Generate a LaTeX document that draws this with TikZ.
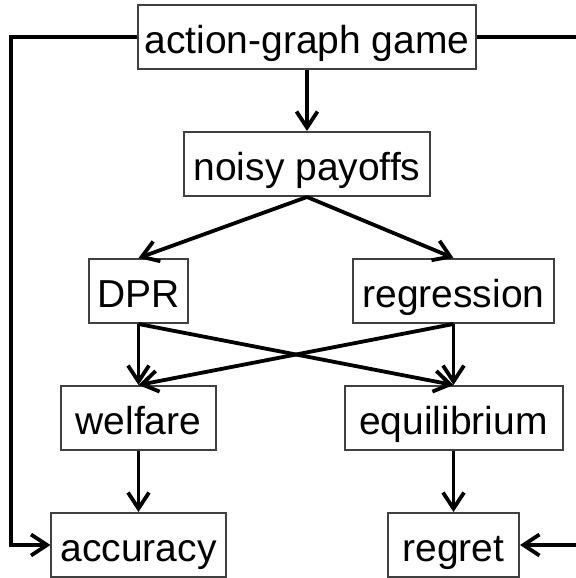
\documentclass[tikz,border=0pt]{standalone}
\usepackage{fontspec}
\setmainfont{Liberation Sans}
\usetikzlibrary{arrows.meta,positioning}

\begin{document}
\begin{tikzpicture}[
  stage/.style={rectangle,draw=black!75,line width=1pt,inner xsep=0pt,inner ysep=0pt,
    minimum height=32pt,text height=18pt,text depth=2pt,font=\fontsize{19.5}{23}\selectfont},
  link/.style={->,line width=1.9pt},
  >={Straight Barb[length=8pt,width=10.5pt]},
  node distance=30.5pt]

  \useasboundingbox (-153.5pt,18.5pt) rectangle (134pt,-270.5pt);

  \node[stage, minimum width=169pt] (game) {action-graph game};
  \node[stage, minimum width=122.5pt] (payoffs) [below=of game] {noisy payoffs};
  \node[stage, minimum width=49.5pt] (dpr) [below=of payoffs, xshift=-84.25pt] {DPR};
  \node[stage, minimum width=100.5pt] (regression) [below=of payoffs, xshift=73.25pt] {regression};
  \node[stage, minimum width=77.5pt] (welfare) [below=of dpr] {welfare};
  \node[stage, minimum width=109pt] (equilibrium) [below=of regression] {equilibrium};
  \node[stage, minimum width=87pt] (accuracy) [below=of welfare] {accuracy};
  \node[stage, minimum width=65.5pt] (regret) [below=of equilibrium] {regret};

  \draw[link] (game) -- (payoffs);
  \draw[link] (payoffs.south) -- (dpr.north);
  \draw[link] (payoffs.south) -- (regression.north);
  \draw[link] (dpr) -- (welfare);
  \draw[link] (dpr.south) -- (equilibrium.north);
  \draw[link] (regression.south) -- (welfare.north);
  \draw[link] (regression) -- (equilibrium);
  \draw[link] (welfare) -- (accuracy);
  \draw[link] (equilibrium) -- (regret);

  % outer loops from the game to the scores
  \draw[link] (game.west) -- ++(-63pt,0) |- (accuracy.west);
  \draw[link] (game.east) -- ++(51pt,0) |- (regret.east);
\end{tikzpicture}
\end{document}
